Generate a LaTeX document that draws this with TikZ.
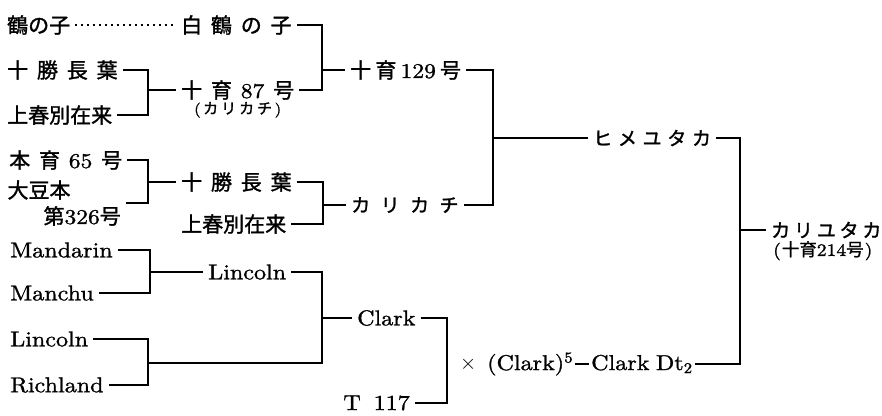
\documentclass[tikz,border=0pt]{standalone}
\usepackage{fontspec}
\setmainfont{lmroman10-regular}[Extension=.otf, FakeStretch=1.12, FakeBold=1.2]
\newfontfamily\jp{Noto Sans CJK JP}[FakeBold=1.4]
\newcommand\kg{\hspace{0.42em}}
\newcommand\kgs{\hspace{0.2em}}
\tikzset{
  jtxt/.style={inner xsep=5pt, inner ysep=1pt, font=\fontsize{21}{26}\selectfont},
  ltxt/.style={inner xsep=5pt, inner ysep=1pt, font=\fontsize{21.5}{26}\selectfont},
  kana/.style={inner xsep=5pt, inner ysep=1pt, font=\fontsize{19}{24}\selectfont\jp},
  note/.style={inner sep=0pt, font=\fontsize{15}{18}\selectfont},
  ln/.style={line width=1.4pt},
}
\begin{document}
\begin{tikzpicture}[x=1pt,y=-1pt]
\useasboundingbox (0,0) rectangle (882,415);
% junctions
\coordinate (j1) at (148,90);
\coordinate (j2) at (322,70);
\coordinate (j3) at (148,182);
\coordinate (j4) at (323,205);
\coordinate (j5) at (493,138);
\coordinate (j6) at (150,272);
\coordinate (j7) at (148,363);
\coordinate (j8) at (322,318);
\coordinate (j9) at (447,364);
\coordinate (j10) at (740,230);
% column A
\node[jtxt,anchor=west] (a1) at (2,25) {\jp 鶴の子};
\node[jtxt,anchor=west] (a2) at (2,70) {\jp 十\kg 勝\kg 長\kg 葉};
\node[jtxt,anchor=west] (a3) at (2,115) {\jp 上春別在来};
\node[jtxt,anchor=west] (a4) at (4,160) {{\jp 本}\kg{\jp 育}\kg 65\kg{\jp 号}};
\node[jtxt,anchor=east,align=left] (a5) at (126,203) {{\jp 大豆本}\\\hspace*{36pt}{\jp 第}326{\jp 号}};
\node[ltxt,anchor=west] (a6) at (5,250) {Mandarin};
\node[ltxt,anchor=west] (a7) at (5,293) {Manchu};
\node[ltxt,anchor=west] (a8) at (5,339) {Lincoln};
\node[ltxt,anchor=west] (a9) at (5,385) {Richland};
% column B
\node[jtxt,anchor=west] (b1) at (176,25) {\jp 白\kg 鶴\kg の\kg 子};
\node[jtxt,anchor=west] (b2) at (176,90) {{\jp 十}\kg{\jp 育}\kg 87\kg{\jp 号}};
\node[note,anchor=north] (b2n) at ([yshift=-1pt]b2.south) {(\,{\jp カ\hspace{0.2em}リ\hspace{0.2em}カ\hspace{0.2em}チ}\,)};
\node[jtxt,anchor=west] (b3) at (176,182) {\jp 十\kg 勝\kg 長\kg 葉};
\node[jtxt,anchor=west] (b4) at (176,224) {\jp 上春別在来};
\node[ltxt,anchor=west] (b5) at (203,272) {Lincoln};
% column C
\node[jtxt,anchor=west] (c1) at (345,70) {{\jp 十}\kgs{\jp 育}\kgs 129\kgs{\jp 号}};
\node[kana,anchor=west] (c2) at (346,205) {カ\hspace{0.55em}リ\hspace{0.55em}カ\hspace{0.55em}チ};
\node[ltxt,anchor=west] (c3) at (352,318) {Clark};
\node[ltxt,anchor=east] (c4) at (415,403) {T\hspace{0.6em}117};
% column D
\node[kana,anchor=west] (d1) at (588,138) {ヒ\hspace{0.3em}メ\hspace{0.3em}ユ\hspace{0.3em}タ\hspace{0.3em}カ};
\node[ltxt,anchor=west,inner xsep=0pt] (d2a) at (460,364) {$\times$};
\node[ltxt,anchor=west,inner xsep=2pt] (d2b) at (485,364) {(Clark)\textsuperscript{5}};
\node[ltxt,anchor=west,inner xsep=2pt] (d2c) at (589,364) {Clark\hspace{0.3em}Dt\textsubscript{2}};
% column E
\node[kana,anchor=west] (e1) at (766,230) {カ\hspace{0.2em}リ\hspace{0.2em}ユ\hspace{0.2em}タ\hspace{0.2em}カ};
\node[note,anchor=north west,font=\fontsize{17.5}{20}\selectfont] (e1n) at (773,241) {(\kern1pt{\jp 十育}214{\jp 号}\kern1pt)};
% connectors
\draw[line width=1.5pt, dash pattern=on 1.5pt off 4.5pt] (a1.east) -- (b1.west);
\draw[ln] (a2.east) -| (j1) |- (a3.east);
\draw[ln] (j1) -- (b2.west);
\draw[ln] (b1.east) -| (j2) |- (b2.east);
\draw[ln] (j2) -- (c1.west);
\draw[ln] (a4.east) -| (j3) |- (a5.east);
\draw[ln] (j3) -- (b3.west);
\draw[ln] (b3.east) -| (j4) |- (b4.east);
\draw[ln] (j4) -- (c2.west);
\draw[ln] (c1.east) -| (j5) |- (c2.east);
\draw[ln] (j5) -- (d1.west);
\draw[ln] (a6.east) -| (j6) |- (a7.east);
\draw[ln] (j6) -- (b5.west);
\draw[ln] (a8.east) -| (j7) |- (a9.east);
\draw[ln] (b5.east) -| (j8) |- (j7);
\draw[ln] (j8) -- (c3.west);
\draw[ln] (c3.east) -| (j9) |- (c4.east);
\draw[ln] (d2b.east) -- (d2c.west);
\draw[ln] (d1.east) -| (j10) |- (d2c.east);
\draw[ln] (j10) -- (e1.west);
\end{tikzpicture}
\end{document}
